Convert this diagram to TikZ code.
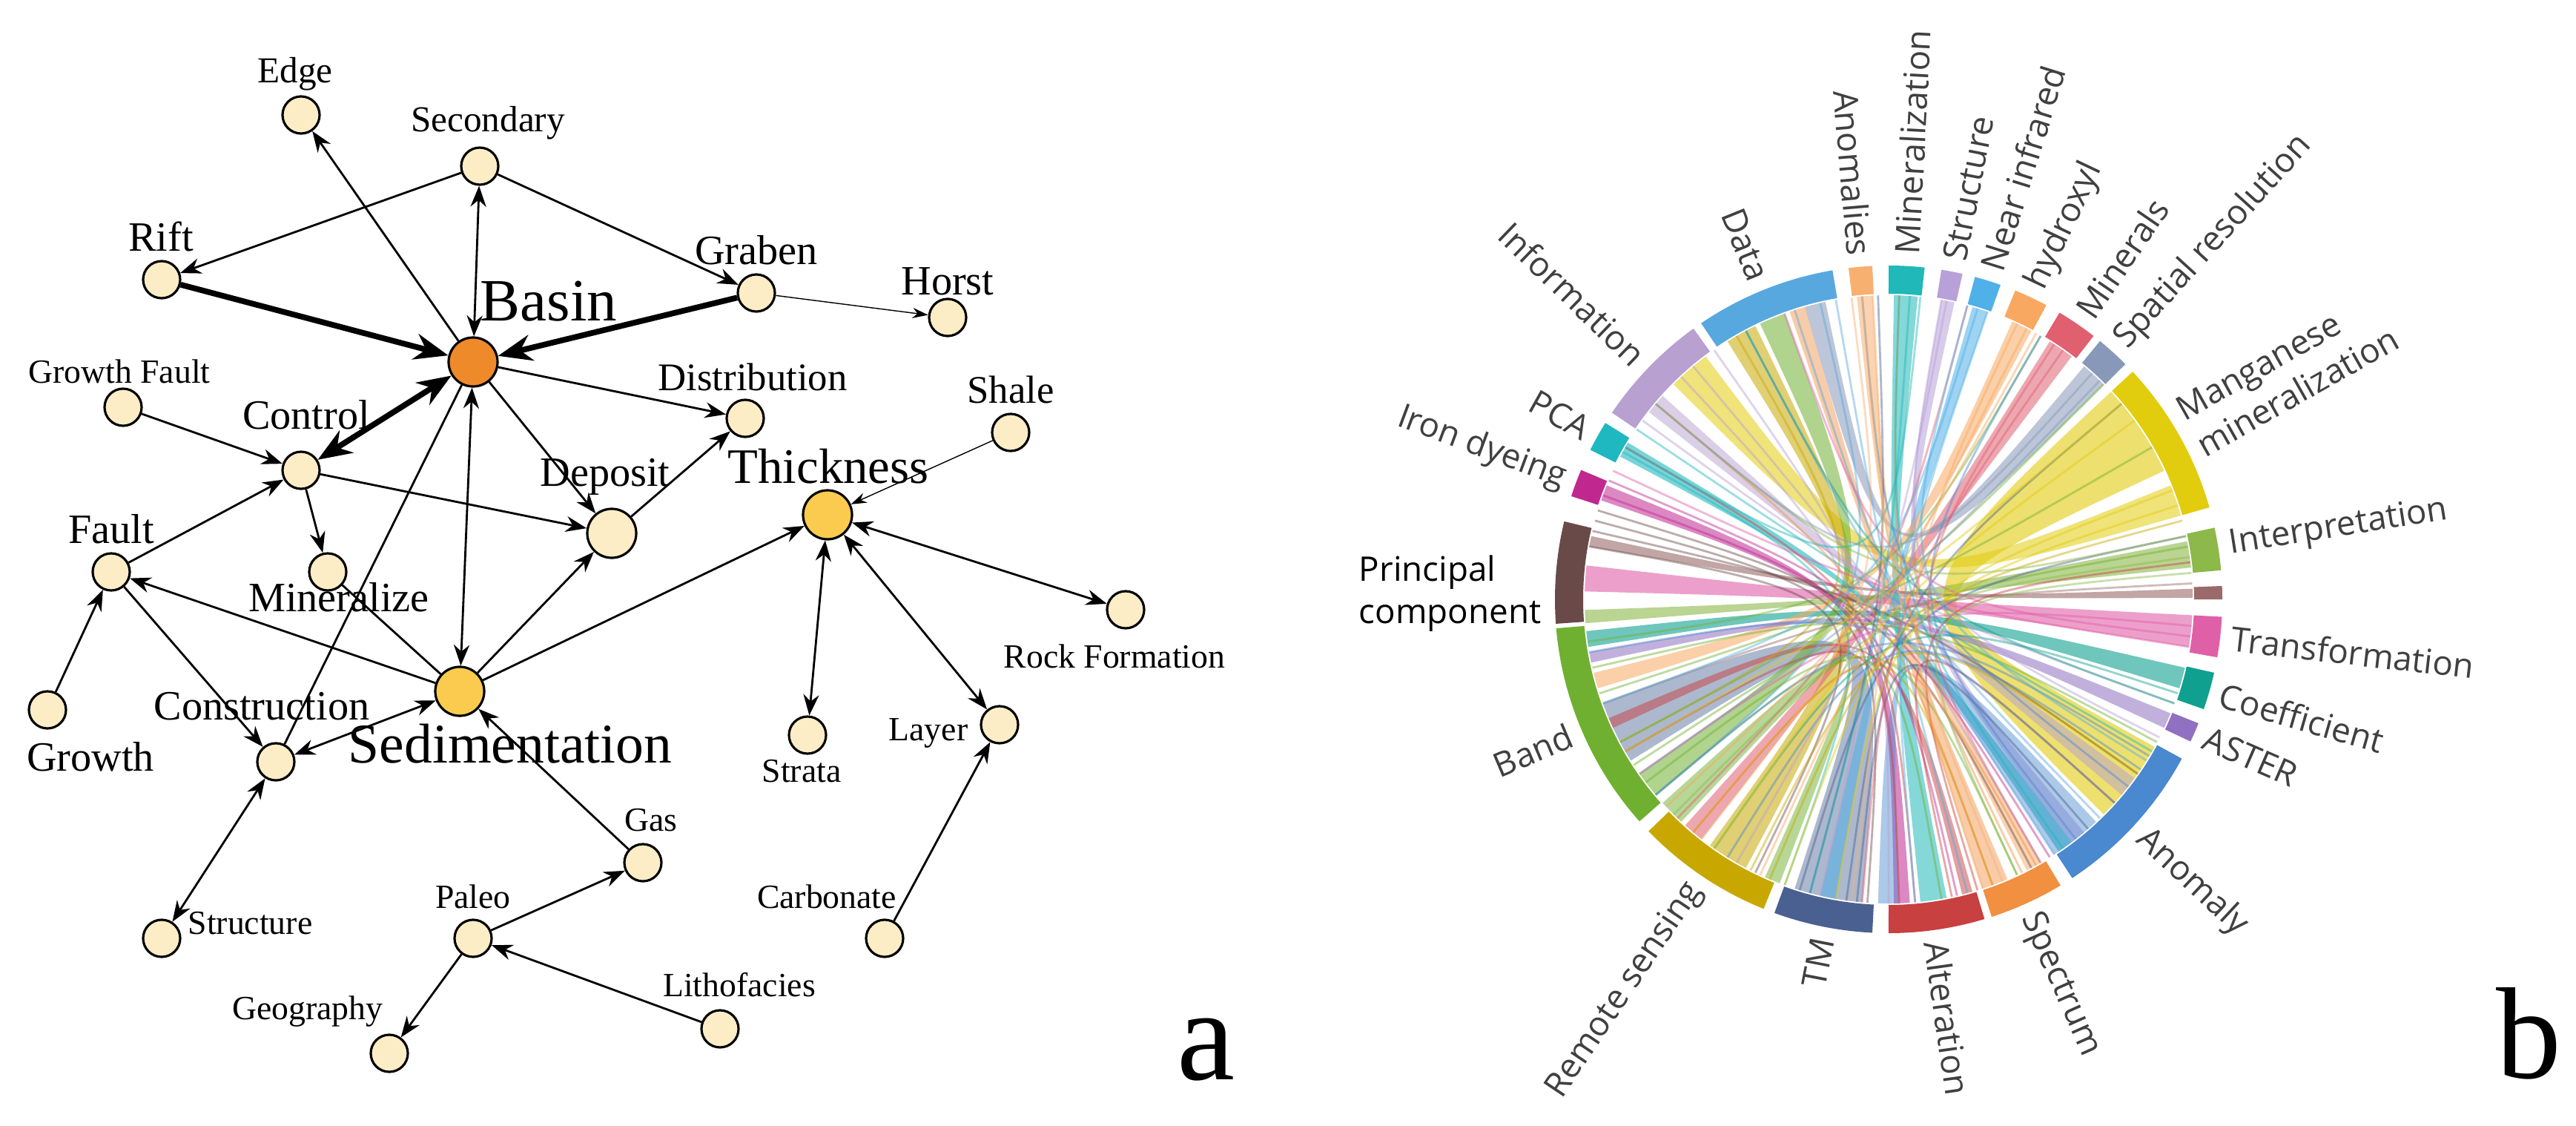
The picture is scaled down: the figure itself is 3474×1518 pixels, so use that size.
\documentclass[tikz,border=0pt]{standalone}
\usepackage{fontspec}
\setmainfont{Liberation Serif}
\newfontfamily\osans{Open Sans}
\usetikzlibrary{arrows.meta}
\definecolor{nfill}{HTML}{FDEDC6}
\definecolor{bfill}{HTML}{EE8A2A}
\definecolor{yfill}{HTML}{FACB4E}
\definecolor{cMan}{HTML}{E2CC0E}
\definecolor{cInt}{HTML}{8DB84A}
\definecolor{cBrn}{HTML}{9A6A6A}
\definecolor{cTra}{HTML}{E060A8}
\definecolor{cCoe}{HTML}{10A090}
\definecolor{cAST}{HTML}{9070C0}
\definecolor{cAno}{HTML}{4A88D0}
\definecolor{cSpe}{HTML}{F09040}
\definecolor{cAlt}{HTML}{C84040}
\definecolor{cTM}{HTML}{4A6090}
\definecolor{cRS}{HTML}{C8A800}
\definecolor{cBan}{HTML}{70B030}
\definecolor{cPC}{HTML}{6A4A48}
\definecolor{cIro}{HTML}{C02890}
\definecolor{cPCA}{HTML}{20B8C0}
\definecolor{cInf}{HTML}{B8A0D0}
\definecolor{cDat}{HTML}{58A8E0}
\definecolor{cAnm}{HTML}{F8B070}
\definecolor{cMin}{HTML}{20B8B8}
\definecolor{cStr}{HTML}{B8A0D8}
\definecolor{cNIR}{HTML}{50B0E8}
\definecolor{cHyd}{HTML}{F8A860}
\definecolor{cMil}{HTML}{E06070}
\definecolor{cSpa}{HTML}{8898B8}
\definecolor{cTMl}{HTML}{8A9AB8}
\definecolor{lbl}{HTML}{404040}
\tikzset{
  sn/.style={circle,draw=black,line width=0.9pt,fill=nfill,minimum size=0.5cm,inner sep=0pt},
  bn/.style={circle,draw=black,line width=0.9pt,minimum size=0.66cm,inner sep=0pt},
  ed/.style={line width=0.8pt,-{Stealth[length=8pt,width=6pt]}},
  bed/.style={line width=0.8pt,{Stealth[length=8pt,width=6pt]}-{Stealth[length=8pt,width=6pt]}},
  ped/.style={line width=0.8pt},
  ted/.style={line width=2.2pt,-{Stealth[length=13pt,width=10pt]}},
  tbed/.style={line width=2.2pt,{Stealth[length=13pt,width=10pt]}-{Stealth[length=13pt,width=10pt]}},
  thin/.style={line width=0.4pt,-{Stealth[length=6pt,width=4pt]}},
  lab/.style={inner sep=0pt,font=\fontsize{#1}{#1}\selectfont},
  lab/.default=14,
  clab/.style={inner sep=0pt,text=lbl,font=\osans\fontsize{13}{16}\selectfont},
}
\newcommand\ribbon[6]{\fill[#5,fill opacity=#6] (#1:410) arc[start angle=#1,end angle=#2,radius=4.1cm] .. controls (0,0) .. (#3:410) arc[start angle=#3,end angle=#4,radius=4.1cm] .. controls (0,0) .. cycle;}
\newcommand\seg[3]{\fill[#3] (#1:412) arc[start angle=#1,end angle=#2,radius=4.12cm] -- (#2:450) arc[start angle=#2,end angle=#1,radius=4.5cm] -- cycle;}
\begin{document}
\begin{tikzpicture}[x=0.01cm,y=-0.01cm]
\useasboundingbox[fill=white] (0,0) rectangle (3474,1518);
% ---------- part a ----------
\node[sn] (edge) at (406,155) {};
\node[sn] (sec) at (647,224) {};
\node[sn] (rift) at (218,377) {};
\node[sn] (grab) at (1020,395) {};
\node[sn] (horst) at (1278,428) {};
\node[bn,fill=bfill] (basin) at (638,488) {};
\node[sn] (gf) at (166,549) {};
\node[sn] (ctrl) at (406,634) {};
\node[sn] (dist) at (1005,564) {};
\node[sn] (shale) at (1363,583) {};
\node[bn,fill=yfill] (thick) at (1116,694) {};
\node[bn,fill=nfill] (dep) at (825,719) {};
\node[sn] (fault) at (150,771) {};
\node[sn] (minz) at (442,771) {};
\node[sn] (rock) at (1518,822) {};
\node[sn] (growth) at (64,957) {};
\node[bn,fill=yfill] (sed) at (620,932) {};
\node[sn] (cons) at (372,1027) {};
\node[sn] (strata) at (1089,991) {};
\node[sn] (layer) at (1348,977) {};
\node[sn] (gas) at (867,1163) {};
\node[sn] (struc) at (218,1265) {};
\node[sn] (paleo) at (638,1265) {};
\node[sn] (carb) at (1193,1265) {};
\node[sn] (litho) at (971,1387) {};
\node[sn] (geo) at (525,1420) {};

\draw[ed] (sec) -- (rift);
\draw[bed] (basin) -- (sec);
\draw[ed] (sec) -- (grab);
\draw[ed] (basin) -- (edge);
\draw[ted] (rift) -- (basin);
\draw[ted] (grab) -- (basin);
\draw[thin] (grab) -- (horst);
\draw[tbed] (basin) -- (ctrl);
\draw[ed] (basin) -- (dist);
\draw[ed] (basin) -- (dep);
\draw[bed] (basin) -- (sed);
\draw[ped] (cons) -- (basin);
\draw[ed] (gf) -- (ctrl);
\draw[ed] (ctrl) -- (dep);
\draw[ed] (ctrl) -- (minz);
\draw[ed] (fault) -- (ctrl);
\draw[ed] (dep) -- (dist);
\draw[thin] (shale) -- (thick);
\draw[ed] (sed) -- (fault);
\draw[ed] (sed) -- (dep);
\draw[ed] (sed) -- (thick);
\draw[ped] (minz) -- (sed);
\draw[bed] (sed) -- (cons);
\draw[ed] (fault) -- (cons);
\draw[ed] (growth) -- (fault);
\draw[bed] (cons) -- (struc);
\draw[ed] (gas) -- (sed);
\draw[ed] (paleo) -- (gas);
\draw[ed] (paleo) -- (geo);
\draw[ed] (litho) -- (paleo);
\draw[bed] (thick) -- (rock);
\draw[bed] (thick) -- (strata);
\draw[bed] (thick) -- (layer);
\draw[ed] (carb) -- (layer);

\node[lab=14] (tEdge) at (398,100) {Edge};
\node[lab=14] (tSec) at (658,166) {Secondary};
\node[lab=16] (tRift) at (217,319) {Rift};
\node[lab=16] (tGrab) at (1020,337) {Graben};
\node[lab=16] (tHorst) at (1278,379) {Horst};
\node[lab=23] (tBasin) at (740,406) {Basin};
\node[lab=13] (tGf) at (161,501) {Growth Fault};
\node[lab=16] (tCtrl) at (413,559) {Control};
\node[lab=15] (tDist) at (1015,508) {Distribution};
\node[lab=15] (tShale) at (1363,525) {Shale};
\node[lab=19] (tThick) at (1117,629) {Thickness};
\node[lab=16] (tDep) at (816,643) {Deposit};
\node[lab=16] (tFault) at (150,713) {Fault};
\node[lab=16] (tMinz) at (457,805) {Mineralize};
\node[lab=13,anchor=west] (tRock) at (1353,885) {Rock Formation};
\node[lab=16] (tGrowth) at (122,1020) {Growth};
\node[lab=21.5] (tSed) at (688,1003) {Sedimentation};
\node[lab=16] (tCons) at (353,952) {Construction};
\node[lab=13] (tStrata) at (1081,1040) {Strata};
\node[lab=13] (tLayer) at (1252,988) {Layer};
\node[lab=13] (tGas) at (878,1106) {Gas};
\node[lab=13,anchor=west] (tStruc) at (253,1245) {Structure};
\node[lab=13] (tPaleo) at (638,1209) {Paleo};
\node[lab=13] (tCarb) at (1115,1209) {Carbonate};
\node[lab=13] (tLitho) at (997,1328) {Lithofacies};
\node[lab=13] (tGeo) at (415,1364) {Geography};
\node[lab=50,anchor=base] (la) at (1627,1455) {a};
\node[lab=50,anchor=base] (lb) at (3410,1453) {b};

% ---------- part b ----------
\begin{scope}[shift={(2547,808)},y=0.01cm]
\ribbon{25}{43}{-45}{-29}{cMan}{0.6}
\ribbon{16}{22}{127}{135}{cMan}{0.55}
\ribbon{173.6}{178.5}{-9}{-3}{cTra}{0.6}
\ribbon{-160}{-148}{-108}{-95}{cTMl}{0.7}
\ribbon{-174}{-171}{-17}{-13}{cCoe}{0.6}
\ribbon{-178}{-175.5}{6}{11}{cInt}{0.6}
\ribbon{-126}{-118}{116}{122}{cRS}{0.55}
\ribbon{-145}{-140}{110}{115}{cBan}{0.55}
\ribbon{-84}{-79}{84.5}{89}{cMin}{0.55}
\ribbon{-53}{-50}{77.5}{80}{cStr}{0.55}
\ribbon{-103}{-100}{71}{74}{cNIR}{0.55}
\ribbon{-166}{-163}{62}{66}{cHyd}{0.55}
\ribbon{-132}{-128}{53}{58}{cMil}{0.55}
\ribbon{102}{106}{45}{50}{cSpa}{0.55}
\ribbon{-63}{-60}{93}{96}{cAnm}{0.55}
\ribbon{-89}{-86}{158}{161}{cIro}{0.55}
\ribbon{-56}{-53}{149}{152}{cPCA}{0.6}
\ribbon{-72}{-67}{106}{109}{cSpe}{0.45}
\ribbon{-25}{-22}{-170}{-168}{cAST}{0.55}
\ribbon{0.3}{2}{168}{170}{cBrn}{0.6}
\ribbon{-57}{-47}{-92}{-88}{cAno}{0.45}
\ribbon{138}{142}{-40}{-36}{cInf}{0.5}
\ribbon{-138}{-133}{-114}{-111}{cBan}{0.5}
\ribbon{-76}{-74}{-157}{-155}{cAlt}{0.5}
\foreach \a/\b/\c in {100/-75/cDat,103/-140/cDat,108/-57/cDat,118/-46/cDat,120/-152/cRS,
  125/-90/cInf,130/-60/cInf,133/-103/cInf,144/-20/cInf,146/-30/cPCA,151/-110/cPCA,
  157/-58/cIro,160/-77/cIro,163/-62/cPC,165/-94/cPC,167/-35/cPC,170/-116/cPC,
  -140/-65/cBan,-143/-80/cBan,-147/10/cBan,-152/45/cBan,-162/30/cBan,-167/-28/cBan,-172/60/cBan,
  -113/15/cRS,-117/-35/cRS,-130/-70/cRS,-134/75/cMil,-96/-49/cTM,-98/40/cTM,-105/92/cTM,-107/12/cTM,
  -73/7/cAlt,-78/-42/cAlt,-85/150/cAlt,-88/-150/cAlt,-61/-130/cSpe,-64/88/cSpe,-70/140/cSpe,
  -31/-140/cAno,-34/-122/cAno,-38/95/cAno,-42/-170/cAno,-52/60/cAno,
  -20/118/cCoe,-18/-125/cCoe,-5/-145/cTra,-7/110/cTra,-9/155/cTra,3/-160/cBrn,
  8/-135/cInt,12/140/cInt,5/-65/cInt,18/-100/cMan,21/-110/cMan,40/-150/cMan,36/-125/cMan,
  46/-145/cSpa,48/140/cSpa,55/-95/cMil,57/-60/cMil,63/-115/cHyd,65/-72/cHyd,61/-137/cHyd,
  71/-85/cNIR,73/-160/cNIR,75/-32/cNIR,79/-120/cStr,80/-27/cStr,86/-105/cMin,88/-55/cMin,84/150/cMin,
  93/-97/cAnm,95/-68/cAnm,97/-128/cAnm}
  {\draw[\c,line width=0.8pt,opacity=0.45] (\a:410) .. controls (0,0) .. (\b:410);}
\seg{16}{43}{cMan}
\seg{5}{12.4}{cInt}
\seg{0}{2.3}{cBrn}
\seg{-10}{-3}{cTra}
\seg{-19.2}{-12.7}{cCoe}
\seg{-25.2}{-21.8}{cAST}
\seg{-56.6}{-28.5}{cAno}
\seg{-72}{-59}{cSpe}
\seg{-90}{-73.3}{cAlt}
\seg{-110}{-92.8}{cTM}
\seg{-136}{-112}{cRS}
\seg{-175}{-138.3}{cBan}
\seg{166.5}{184.2}{cPC}
\seg{157.2}{162}{cIro}
\seg{148.1}{153.4}{cPCA}
\seg{125.8}{146}{cInf}
\seg{99.7}{124.2}{cDat}
\seg{92.8}{96.9}{cAnm}
\seg{83.8}{90}{cMin}
\seg{77.2}{80.9}{cStr}
\seg{70.4}{75}{cNIR}
\seg{61.8}{67.7}{cHyd}
\seg{52.1}{59.2}{cMil}
\seg{44.8}{50.7}{cSpa}
\foreach \ang/\txt in {112/Data,136/Information,150.7/PCA,159.6/Iron dyeing,-157/Band,-124/Remote sensing,-101/TM,94.8/Anomalies}
  {\node[clab,anchor=east,rotate=\ang-180] at (\ang:465) {\txt};}
\foreach \ang/\txt in {-82/Alteration,-66/Spectrum,-43/Anomaly,-23.5/ASTER,-16/Coefficient,-6.5/Transformation,9/Interpretation,47.7/Spatial resolution,55.6/Minerals,64.7/hydroxyl,72.7/Near infrared,79/Structure,87/Mineralization}
  {\node[clab,anchor=west,rotate=\ang] at (\ang:465) {\txt};}
\node[clab,anchor=west,rotate=29.5,align=left] (mm) at (29.5:465) {Manganese\\mineralization};
\node[clab,text=black,anchor=east,align=left] (pc) at (-468,8) {Principal\\component};
\end{scope}
\end{tikzpicture}
\end{document}
